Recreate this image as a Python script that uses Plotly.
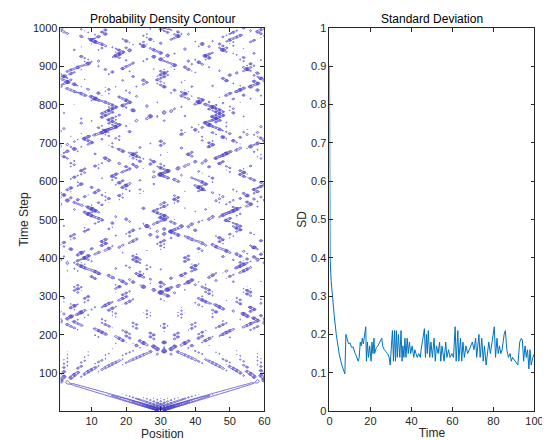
import numpy as np
import plotly.graph_objects as go

# lattice / walk parameters for the density map
n_sites = 60
n_steps = 1000
start_site = 30
hop = 2.0
dt = 0.1
levels = dict(start=0.045, end=0.3, size=0.025)

# standard deviation
sd_time = [0, 0.1, 0.3, 0.8, 1.4, 2.3, 3.3, 4.8, 6.0, 7.2, 7.5, 8.0, 8.5, 9, 9.5, 10, 10.5, 11, 11.5,
           12, 12.5, 13, 13.5, 14, 14.5, 15, 15.5, 16, 16.5, 17, 17.7, 18.0, 18.5, 19.0, 19.6, 20.3,
           20.7, 21.2, 21.7, 22.0, 22.8, 23.6, 24.4, 25.5, 25.9, 26.7, 27.5, 28.3, 29.1, 29.6, 30.1,
           30.7, 31.2, 31.7, 32.2, 32.6, 33.1, 33.6, 34.3, 34.9, 35.4, 35.8, 36.3, 36.8, 37.3, 37.9,
           38.4, 39.0, 39.6, 40.3, 41.1, 41.6, 42.2, 42.8, 43.5, 44.3, 44.7, 46.3, 46.8, 47.3, 47.7,
           48.2, 48.9, 49.5, 50.2, 51.0, 51.6, 52.2, 53.0, 53.7, 54.3, 54.9, 55.9, 56.7, 57.3, 58.1,
           58.8, 59.7, 60.5, 61.3, 61.8, 62.6, 63.1, 63.9, 64.5, 65.1, 65.8, 66.6, 67.4, 68.2, 69.0,
           69.7, 70.5, 71.3, 71.8, 72.9, 73.5, 74.3, 75.0, 75.6, 76.4, 77.7, 78.5, 80.4, 81.0, 81.7,
           82.3, 82.9, 83.6, 84.2, 85.2, 85.8, 86.5, 87.3, 88.1, 88.7, 89.3, 90.5, 91.9, 92.8, 93.6,
           94.1, 94.7, 95.4, 96.0, 96.6, 97.3, 97.8, 98.4, 99.2, 100]
sd_value = [0.90, 0.47, 0.40, 0.34, 0.30, 0.25, 0.20, 0.147, 0.12, 0.10, 0.097, 0.20, 0.185, 0.18,
            0.175, 0.178, 0.17, 0.165, 0.168, 0.155, 0.15, 0.145, 0.138, 0.13, 0.14, 0.18, 0.17, 0.19,
            0.175, 0.195, 0.22, 0.13, 0.18, 0.14, 0.17, 0.13, 0.18, 0.15, 0.19, 0.15, 0.165, 0.17,
            0.18, 0.19, 0.17, 0.16, 0.155, 0.15, 0.14, 0.12, 0.16, 0.21, 0.13, 0.21, 0.13, 0.21, 0.14,
            0.20, 0.14, 0.21, 0.13, 0.17, 0.14, 0.19, 0.14, 0.19, 0.15, 0.18, 0.15, 0.17, 0.14, 0.16,
            0.15, 0.14, 0.15, 0.14, 0.16, 0.215, 0.14, 0.20, 0.15, 0.21, 0.14, 0.18, 0.14, 0.19, 0.13,
            0.17, 0.15, 0.18, 0.13, 0.17, 0.13, 0.18, 0.14, 0.16, 0.14, 0.15, 0.14, 0.22, 0.13, 0.21,
            0.13, 0.19, 0.13, 0.18, 0.14, 0.17, 0.15, 0.16, 0.17, 0.18, 0.16, 0.19, 0.14, 0.20, 0.14,
            0.19, 0.13, 0.17, 0.12, 0.18, 0.15, 0.22, 0.14, 0.19, 0.15, 0.17, 0.15, 0.16, 0.20, 0.21,
            0.16, 0.14, 0.15, 0.13, 0.14, 0.13, 0.12, 0.18, 0.19, 0.185, 0.13, 0.17, 0.14, 0.16, 0.11,
            0.16, 0.12, 0.14, 0.15]

# continuous-time walk on a chain with hard walls
H = np.zeros((n_sites, n_sites))
idx = np.arange(n_sites - 1)
H[idx, idx + 1] = -hop
H[idx + 1, idx] = -hop
E, V = np.linalg.eigh(H)
psi0 = np.zeros(n_sites)
psi0[start_site - 1] = 1.0
c0 = V.T @ psi0
times = np.arange(n_steps) * dt
psi = (np.exp(-1j * np.outer(times, E)) * c0) @ V.T
density = np.abs(psi) ** 2

positions = np.arange(1, n_sites + 1)
steps = np.arange(1, n_steps + 1)

font = dict(family="Liberation Sans, Arial, sans-serif", size=11, color="#262626")

fig = go.Figure()
fig.add_trace(go.Contour(
    x=positions, y=steps, z=density,
    contours=dict(coloring="lines", **levels),
    colorscale=[[0, "#4d44c6"], [1, "#4d44c6"]],
    line=dict(width=0.8), showscale=False, hoverinfo="skip",
    xaxis="x", yaxis="y"
))
fig.add_trace(go.Scatter(
    x=sd_time, y=sd_value, mode="lines",
    line=dict(color="#0072BD", width=1),
    xaxis="x2", yaxis="y2", showlegend=False
))

axis_style = dict(showline=True, linecolor="#262626", linewidth=0.8, mirror="ticks",
                  ticks="inside", ticklen=4, tickcolor="#262626", showgrid=False,
                  zeroline=False, tickfont=font)

fig.update_layout(
    width=550, height=440,
    margin=dict(l=0, r=0, t=20, b=37),
    plot_bgcolor="white", paper_bgcolor="white",
    font=font,
    xaxis=dict(domain=[0.092, 0.471], range=[1, 60], tickvals=[10, 20, 30, 40, 50, 60],
               title=dict(text="Position", font=dict(size=12), standoff=2), **axis_style),
    yaxis=dict(domain=[0, 1], range=[1, 1000], tickvals=list(range(100, 1001, 100)),
               title=dict(text="Time Step", font=dict(size=12), standoff=1), **axis_style),
    xaxis2=dict(domain=[0.592, 0.973], range=[0, 100], tickvals=[0, 20, 40, 60, 80, 100],
                anchor="y2",
                title=dict(text="Time", font=dict(size=12), standoff=2), **axis_style),
    yaxis2=dict(domain=[0, 1], range=[0, 1], tickvals=[i / 10 for i in range(11)],
                anchor="x2",
                title=dict(text="SD", font=dict(size=12), standoff=1), **axis_style),
    annotations=[
        dict(text="Probability Density Contour", x=(0.092 + 0.471) / 2, y=1, xref="paper",
             yref="paper", xanchor="center", yanchor="bottom", showarrow=False,
             font=dict(size=12, color="#000")),
        dict(text="Standard Deviation", x=(0.592 + 0.973) / 2, y=1, xref="paper",
             yref="paper", xanchor="center", yanchor="bottom", showarrow=False,
             font=dict(size=12, color="#000")),
    ],
)

fig.write_html("out.html")
